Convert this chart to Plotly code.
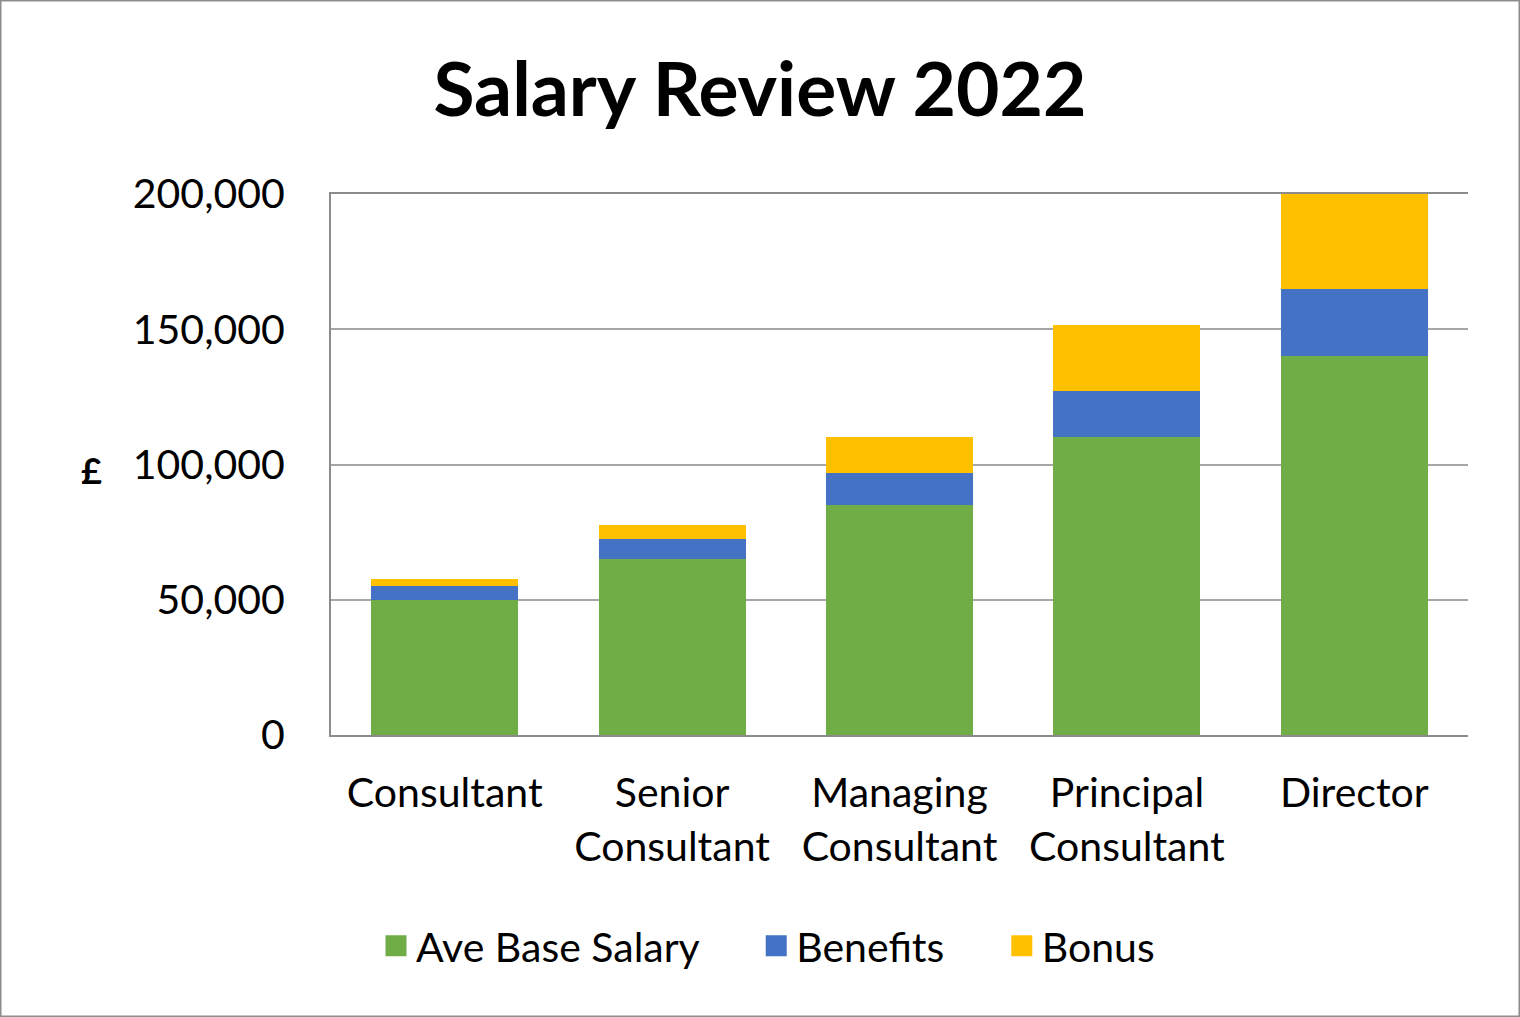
import plotly.graph_objects as go

categories = ["Consultant", "Senior<br>Consultant", "Managing<br>Consultant", "Principal<br>Consultant", "Director"]
base_salary = [50000, 65000, 85000, 110000, 140000]
benefits = [5000, 7500, 12000, 17000, 25000]
bonus = [2500, 5000, 13000, 24500, 35000]
series_names = ["Ave Base Salary", "Benefits", "Bonus"]
series_colors = ["#70AD47", "#4472C4", "#FFC000"]
tick_vals = [0, 50000, 100000, 150000, 200000]
tick_text = ["0", "50,000", "100,000", "150,000", "200,000"]

FONT = "Lato"
PAD = "\u00a0" * 5

fig = go.Figure()
for name, vals, col in zip(series_names, [base_salary, benefits, bonus], series_colors):
    fig.add_trace(go.Bar(name=name, x=categories, y=vals, marker=dict(color=col, line=dict(width=0)),
                         showlegend=False))
# legend entries with larger square swatches
for i, (name, col) in enumerate(zip(series_names, series_colors)):
    label = name + (PAD if i < len(series_names) - 1 else "")
    fig.add_trace(go.Scatter(name=label, x=[None], y=[None], mode="markers",
                             marker=dict(symbol="square", size=16, color=col, line=dict(color=col, width=5)),
                             showlegend=True))

fig.update_layout(
    barmode="stack",
    bargap=0.354,
    width=1520, height=1017,
    margin=dict(l=331, r=52, t=194, b=282),
    paper_bgcolor="white", plot_bgcolor="white",
    font=dict(family=FONT, color="black", size=41),
    title=dict(text="<b>Salary Review 2022</b>", x=0.5, xanchor="center", y=0.912, yanchor="middle",
               font=dict(family=FONT, size=75, color="black")),
    legend=dict(orientation="h", x=(768 - 331) / 1137, xanchor="center", y=-0.39, yanchor="middle",
                font=dict(size=41, family=FONT), itemsizing="trace", traceorder="normal",
                itemwidth=30),
    showlegend=True,
)
fig.update_xaxes(showline=True, mirror=True, linecolor="#8C8C8C", linewidth=2, ticks="",
                 tickfont=dict(size=41, family=FONT), ticklabelstandoff=21)
fig.update_yaxes(range=[0, 200000], tickvals=tick_vals, ticktext=tick_text, showgrid=True, gridcolor="#A6A6A6",
                 gridwidth=2, showline=True, linecolor="#8C8C8C", linewidth=2, ticks="", ticklen=0,
                 tickfont=dict(size=41, family=FONT), zeroline=False, ticklabelstandoff=36)

fig.add_annotation(text="<b>£</b>", xref="paper", yref="paper", x=(91 - 331) / 1137, y=(735 - 470) / 541,
                   xanchor="center", showarrow=False, font=dict(size=36, family=FONT, color="black"))
fig.add_shape(type="rect", xref="paper", yref="paper", x0=-331/1137, x1=1+52/1137,
              y0=-282/541, y1=1+194/541, line=dict(color="#8C8C8C", width=3), layer="above")

fig.write_html("out.html")
